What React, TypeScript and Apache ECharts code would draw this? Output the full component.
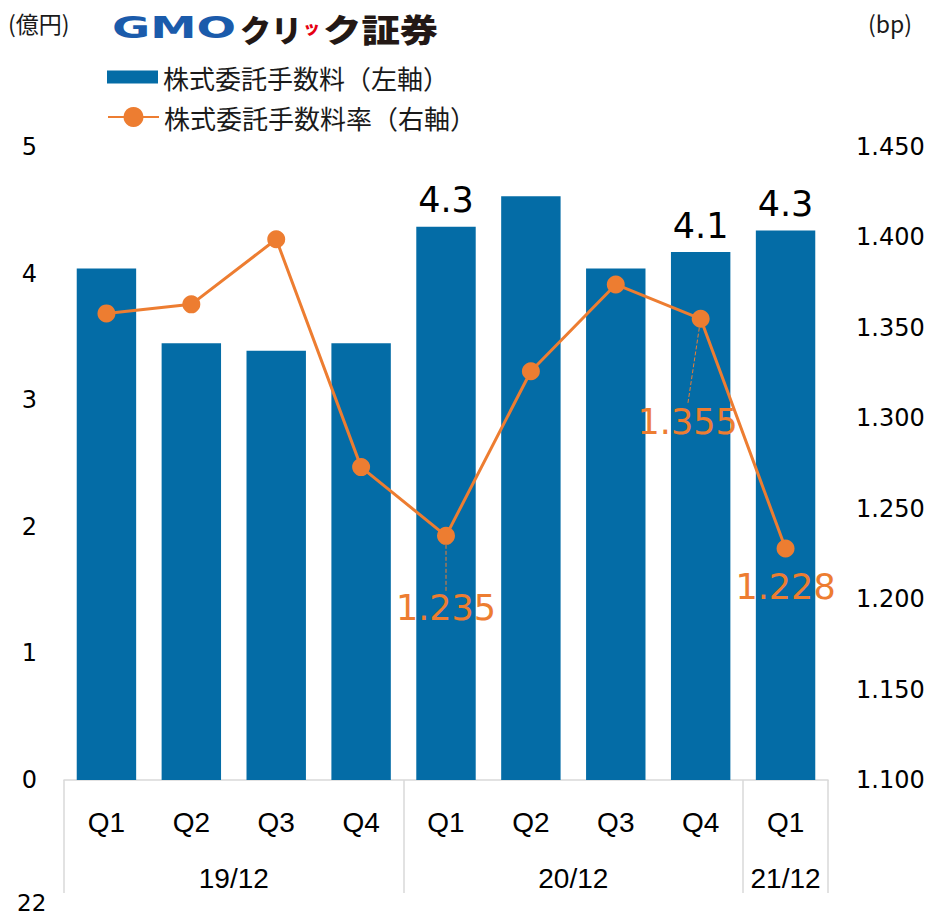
import React, { useEffect, useRef } from "react";
import * as echarts from "echarts";

const categories = ["Q1", "Q2", "Q3", "Q4", "Q1", "Q2", "Q3", "Q4", "Q1"];
const years = ["19/12", "20/12", "21/12"];
const yearSpans = [4, 4, 1];
const commission = [4.04, 3.45, 3.39, 3.45, 4.37, 4.61, 4.04, 4.17, 4.34];
const barLabels = ["", "", "", "", "4.3", "", "", "4.1", "4.3"];
const rate = [1.358, 1.363, 1.399, 1.273, 1.235, 1.326, 1.374, 1.355, 1.228];
const rateLabelShown = [false, false, false, false, true, false, false, true, true];
const rateGuideShown = [false, false, false, false, true, false, false, true, false];
const leftAxis = { min: 0, max: 5, interval: 1 };
const rightAxis = { min: 1.1, max: 1.45, interval: 0.05 };
const barName = "株式委託手数料（左軸）";
const lineName = "株式委託手数料率（右軸）";

const BLUE = "#046ca6";
const ORANGE = "#ed7d31";
const NUM_FONT = "DejaVu Sans";
const CAT_FONT = "'Liberation Sans Narrow', 'Liberation Sans', sans-serif";
const JP_FONT = "'Noto Sans CJK JP', sans-serif";

export default function App() {
  const ref = useRef<HTMLDivElement>(null);
  useEffect(() => {
    if (!ref.current) return;
    const chart = echarts.init(ref.current, null, { renderer: "svg" });

    const bounds: number[] = [0];
    yearSpans.forEach((s) => bounds.push(bounds[bounds.length - 1] + s));
    const centers = yearSpans.map((s, i) => bounds[i] + s / 2);

    chart.setOption({
      animation: false,
      backgroundColor: "#ffffff",
      grid: { left: 64, right: 104, top: 147, bottom: 138, outerBoundsMode: "none" },
      legend: [
        {
          data: [{ name: barName, icon: "rect" }],
          left: 102,
          top: 59,
          itemWidth: 51,
          itemHeight: 13,
          selectedMode: false,
          textStyle: { fontSize: 26, fontFamily: JP_FONT, color: "#1a1a1a" },
        },
        {
          data: [lineName],
          left: 102,
          top: 99,
          itemWidth: 51,
          itemHeight: 25,
          selectedMode: false,
          textStyle: { fontSize: 26, fontFamily: JP_FONT, color: "#1a1a1a" },
        },
      ],
      xAxis: [
        {
          type: "category",
          data: categories,
          position: "bottom",
          axisLine: { show: true, lineStyle: { color: "#d9d9d9", width: 1.5 } },
          axisTick: { show: false },
          axisLabel: { fontSize: 28, fontFamily: CAT_FONT, color: "#000", margin: 28 },
        },
        {
          type: "value",
          min: 0,
          max: bounds[bounds.length - 1],
          position: "bottom",
          axisLine: { show: false },
          splitLine: { show: false },
          axisTick: {
            show: true,
            customValues: bounds,
            length: 113,
            lineStyle: { color: "#d9d9d9", width: 1.5 },
          },
          axisLabel: {
            customValues: centers,
            formatter: (v: number) => {
              const i = centers.findIndex((c) => Math.abs(c - v) < 1e-6);
              return i >= 0 ? years[i] : "";
            },
            fontSize: 28,
            fontFamily: CAT_FONT,
            color: "#000",
            margin: 84,
          },
        },
      ],
      yAxis: [
        {
          type: "value",
          min: leftAxis.min,
          max: leftAxis.max,
          interval: leftAxis.interval,
          axisLine: { show: false },
          axisTick: { show: false },
          splitLine: { show: false },
          axisLabel: { fontSize: 24, fontFamily: NUM_FONT, color: "#000", margin: 27 },
        },
        {
          type: "value",
          min: rightAxis.min,
          max: rightAxis.max,
          interval: rightAxis.interval,
          position: "right",
          axisLine: { show: false },
          axisTick: { show: false },
          splitLine: { show: false },
          axisLabel: {
            fontSize: 24,
            fontFamily: NUM_FONT,
            color: "#000",
            margin: 28,
            formatter: (v: number) => v.toFixed(3),
          },
        },
      ],
      series: [
        {
          name: barName,
          type: "bar",
          xAxisIndex: 0,
          yAxisIndex: 0,
          barWidth: "70%",
          itemStyle: { color: BLUE },
          data: commission.map((v, i) => ({
            value: v,
            label: { show: barLabels[i] !== "" },
          })),
          label: {
            show: false,
            position: "top",
            distance: 9,
            formatter: (p: any) => barLabels[p.dataIndex],
            fontSize: 35,
            fontFamily: NUM_FONT,
            color: "#000",
          },
        },
        {
          name: lineName,
          type: "line",
          xAxisIndex: 0,
          yAxisIndex: 1,
          symbol: "circle",
          symbolSize: 18,
          z: 5,
          lineStyle: { color: ORANGE, width: 3 },
          itemStyle: { color: ORANGE },
          data: rate.map((v, i) => ({
            value: v,
            label: { show: rateLabelShown[i] },
            labelLine: { show: rateGuideShown[i] },
          })),
          label: {
            show: false,
            position: "bottom",
            distance: 12,
            formatter: (p: any) => Number(p.value).toFixed(3),
            fontSize: 35,
            fontFamily: NUM_FONT,
            color: ORANGE,
          },
          labelLine: {
            show: true,
            lineStyle: { color: ORANGE, width: 1, type: "dashed" },
          },
          labelLayout: (p: any) => {
            if (p.dataIndex === 4) return { dy: 34 };
            if (p.dataIndex === 7) return { dx: -13, dy: 65 };
            return {};
          },
        },
      ],
      graphic: [
        {
          type: "text",
          x: 8,
          y: 23,
          style: { text: "(億円)", font: `23px ${JP_FONT}`, fill: "#1a1a1a", textVerticalAlign: "middle" },
        },
        {
          type: "text",
          x: 868,
          y: 23,
          style: { text: "(bp)", font: `23px ${JP_FONT}`, fill: "#1a1a1a", textVerticalAlign: "middle" },
        },
        {
          type: "text",
          x: 17,
          y: 903,
          style: { text: "22", font: `23px ${NUM_FONT}`, fill: "#000", textVerticalAlign: "middle" },
        },
        {
          type: "text",
          x: 112,
          y: 28,
          scaleX: 1.55,
          style: { text: "GMO", font: `bold 30px ${NUM_FONT}`, fill: "#1b5bab", textVerticalAlign: "middle" },
        },
        {
          type: "text",
          x: 240,
          y: 28,
          style: { text: "クリ", font: `900 31px ${JP_FONT}`, fill: "#231815", textVerticalAlign: "middle" },
        },
        {
          type: "text",
          x: 303,
          y: 26,
          style: { text: "ッ", font: `900 17px ${JP_FONT}`, fill: "#e60012", textVerticalAlign: "middle" },
        },
        {
          type: "text",
          x: 323,
          y: 28,
          scaleX: 1.2,
          style: { text: "ク証券", font: `900 32px ${JP_FONT}`, fill: "#231815", textVerticalAlign: "middle" },
        },
      ],
    });
    return () => chart.dispose();
  }, []);
  return (
    <div
      ref={ref}
      style={{ position: "absolute", left: 0, top: 0, width: 932, height: 918, background: "#fff" }}
    />
  );
}
